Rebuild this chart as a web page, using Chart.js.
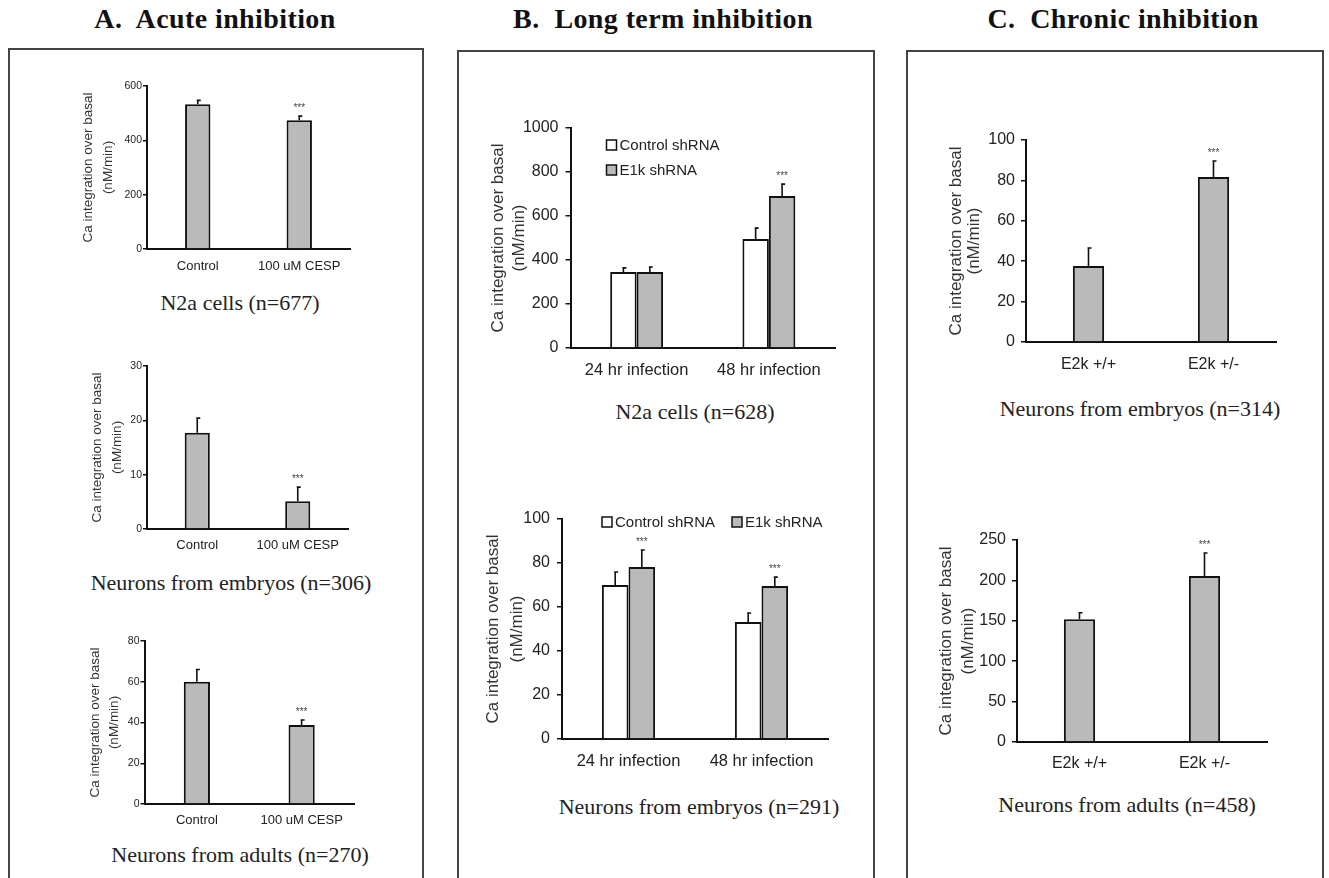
<!DOCTYPE html>
<html>
<head>
<meta charset="utf-8">
<script src="https://cdn.jsdelivr.net/npm/chart.js@4.4.1/dist/chart.umd.min.js"></script>
<style>
    body { margin: 0; background: #fff; width: 1329px; height: 878px; overflow: hidden; position: relative; }
    .panel { position: absolute; border: 2px solid #444; border-bottom: none; box-sizing: border-box; }
    .head { position: absolute; top: 3px; font: bold 28px "Liberation Serif", serif; white-space: pre; transform: translateX(-50%); color: #111; letter-spacing: 0.4px; }
    .sub { position: absolute; font: 22px "Liberation Serif", serif; white-space: pre; transform: translate(-50%, -50%); color: #222; }
    canvas { position: absolute; }
</style>
</head>
<body>
<div class="panel" style="left:8px;top:48px;width:416px;height:840px"></div>
<div class="panel" style="left:457px;top:50px;width:418px;height:840px"></div>
<div class="panel" style="left:906px;top:50px;width:418px;height:840px"></div>
<div class="head" style="left:215px">A.  Acute inhibition</div>
<div class="head" style="left:663px">B.  Long term inhibition</div>
<div class="head" style="left:1123px">C.  Chronic inhibition</div>
<div class="sub" style="left:240px;top:303px">N2a cells (n=677)</div>
<div class="sub" style="left:231px;top:583px">Neurons from embryos (n=306)</div>
<div class="sub" style="left:240px;top:855px">Neurons from adults (n=270)</div>
<div class="sub" style="left:695px;top:412px">N2a cells (n=628)</div>
<div class="sub" style="left:699px;top:807px">Neurons from embryos (n=291)</div>
<div class="sub" style="left:1140px;top:409px">Neurons from embryos (n=314)</div>
<div class="sub" style="left:1127px;top:805px">Neurons from adults (n=458)</div>

<script>
// ==================== DATA ====================
const yTitle = ['Ca integration over basal', '(nM/min)'];

// A. acute inhibition
const acuteLabels = ['Control', '100 uM CESP'];
const n2aAcuteMean = [533, 474];
const n2aAcuteErr = [14, 15];
const n2aAcuteSig = [false, true];
const embAcuteMean = [17.7, 5.1];
const embAcuteErr = [2.7, 2.6];
const embAcuteSig = [false, true];
const adultAcuteMean = [60, 38.8];
const adultAcuteErr = [6, 2.4];
const adultAcuteSig = [false, true];

// B. long term inhibition
const infectionLabels = ['24 hr infection', '48 hr infection'];
const seriesNames = ['Control shRNA', 'E1k shRNA'];
const n2aCtrlMean = [345, 495];
const n2aCtrlErr = [19, 50];
const n2aE1kMean = [345, 691];
const n2aE1kErr = [23, 54];
const n2aE1kSig = [false, true];
const embCtrlMean = [70, 53.2];
const embCtrlErr = [5.9, 4.1];
const embE1kMean = [78.2, 69.5];
const embE1kErr = [7.7, 4.1];
const embE1kSig = [true, true];

// C. chronic inhibition
const genotypeLabels = ['E2k +/+', 'E2k +/-'];
const embChronicMean = [37.6, 81.7];
const embChronicErr = [8.9, 7.9];
const embChronicSig = [false, true];
const adultChronicMean = [152, 205.5];
const adultChronicErr = [8, 28.5];
const adultChronicSig = [false, true];

// ==================== CHARTS ====================
Chart.defaults.font.family = '"Liberation Sans", Arial, sans-serif';
Chart.defaults.color = '#222';

const GREY = '#bababa';

// error bars with a small cap, plus *** over significant bars
const errorBars = {
    id: 'errorBars',
    afterDatasetsDraw(chart) {
        const ctx = chart.ctx;
        const yScale = chart.scales.y;
        chart.data.datasets.forEach((ds, di) => {
            const meta = chart.getDatasetMeta(di);
            meta.data.forEach((bar, i) => {
                if (!ds.errors) return;
                const yTop = yScale.getPixelForValue(ds.data[i] + ds.errors[i]);
                ctx.save();
                ctx.strokeStyle = '#111';
                ctx.lineWidth = 1.6;
                ctx.beginPath();
                ctx.moveTo(bar.x, bar.y);
                ctx.lineTo(bar.x, yTop);
                ctx.moveTo(bar.x - 1, yTop);
                ctx.lineTo(bar.x + 3, yTop);
                ctx.stroke();
                if (ds.sig && ds.sig[i]) {
                    ctx.fillStyle = '#444';
                    ctx.font = '10px "Liberation Sans"';
                    ctx.textAlign = 'center';
                    ctx.textBaseline = 'bottom';
                    ctx.fillText('***', bar.x, yTop - 3);
                }
                ctx.restore();
            });
        });
    }
};

// little square legend drawn inside the plot
const boxLegend = {
    id: 'boxLegend',
    afterDraw(chart, args, opts) {
        if (!opts.items) return;
        const ctx = chart.ctx;
        const ca = chart.chartArea;
        chart.data.datasets.forEach((ds, i) => {
            const x = ca.left + opts.items[i][0];
            const y = ca.top + opts.items[i][1];
            ctx.save();
            ctx.fillStyle = ds.backgroundColor;
            ctx.fillRect(x, y - 5, 10, 10);
            ctx.strokeStyle = '#111';
            ctx.lineWidth = 1.5;
            ctx.strokeRect(x, y - 5, 10, 10);
            ctx.fillStyle = '#222';
            ctx.font = opts.size + 'px "Liberation Sans"';
            ctx.textBaseline = 'middle';
            ctx.fillText(ds.label, x + 13, y + 1);
            ctx.restore();
        });
    }
};

function makeChart(g, labels, datasets, yMax, yStep, legend) {
    const yW = g.left - (g.titleX - g.lh / 2);
    const padT = 20, padR = 12, xH = 46;
    const cv = document.createElement('canvas');
    cv.width = g.right - g.left + yW + padR;
    cv.height = g.bottom - g.top + padT + xH;
    cv.style.left = (g.left - yW) + 'px';
    cv.style.top = (g.top - padT) + 'px';
    document.body.appendChild(cv);

    const plugins = [errorBars];
    if (legend) plugins.push(boxLegend);

    return new Chart(cv.getContext('2d'), {
        type: 'bar',
        data: { labels: labels, datasets: datasets },
        plugins: plugins,
        options: {
            responsive: false,
            animation: false,
            layout: { padding: { top: padT, right: padR, left: 0, bottom: 0 } },
            datasets: { bar: { categoryPercentage: g.catPct, barPercentage: g.barPct } },
            plugins: {
                legend: { display: false },
                tooltip: { enabled: false },
                boxLegend: legend || {}
            },
            scales: {
                x: {
                    ticks: { font: { size: g.xf }, padding: g.xPad, color: '#222' },
                    grid: { display: false, drawTicks: false },
                    border: { display: true, color: '#111', width: 2 },
                    afterFit(s) { s.height = xH; }
                },
                y: {
                    min: 0,
                    max: yMax,
                    ticks: {
                        stepSize: yStep,
                        font: { size: g.tick },
                        padding: g.tickPad,
                        color: '#222',
                        callback: (v) => String(v)
                    },
                    grid: { drawOnChartArea: false, drawTicks: true, tickLength: g.tickLen, color: '#111', lineWidth: 1.5 },
                    border: { display: true, color: '#111', width: 2 },
                    title: {
                        display: true,
                        text: yTitle,
                        color: '#333',
                        padding: 0,
                        font: { size: g.tf, lineHeight: g.lh / g.tf }
                    },
                    afterFit(s) { s.width = yW; }
                }
            }
        }
    });
}

function greyBars(mean, err, sig) {
    return [{ data: mean, errors: err, sig: sig, backgroundColor: GREY, borderColor: '#111', borderWidth: 2 }];
}

const smallA = { tf: 13.5, tick: 10.5, tickLen: 4, tickPad: 1, xf: 13, catPct: 1, barPct: 0.25 };
const bigB = { tf: 17, tick: 16, tickLen: 5, tickPad: 7, xf: 16.5, xPad: 13, catPct: 0.4, barPct: 1 };
const bigC = { tf: 17, tick: 16, tickLen: 5, tickPad: 6, xf: 16, catPct: 1, barPct: 0.25 };

// A
makeChart(Object.assign({}, smallA, { left: 147, top: 86, right: 350, bottom: 249, titleX: 88, lh: 20, xPad: 10 }),
    acuteLabels, greyBars(n2aAcuteMean, n2aAcuteErr, n2aAcuteSig), 600, 200);
makeChart(Object.assign({}, smallA, { left: 147, top: 366, right: 348, bottom: 529, titleX: 97, lh: 20, xPad: 9 }),
    acuteLabels, greyBars(embAcuteMean, embAcuteErr, embAcuteSig), 30, 10);
makeChart(Object.assign({}, smallA, { left: 144, top: 641, right: 354, bottom: 804, titleX: 95, lh: 19, xPad: 9 }),
    acuteLabels, greyBars(adultAcuteMean, adultAcuteErr, adultAcuteSig), 80, 20);

// B
makeChart(Object.assign({}, bigB, { left: 570, top: 128, right: 835, bottom: 348, titleX: 498, lh: 21 }),
    infectionLabels, [
        { label: seriesNames[0], data: n2aCtrlMean, errors: n2aCtrlErr, backgroundColor: '#ffffff', borderColor: '#111', borderWidth: 2 },
        { label: seriesNames[1], data: n2aE1kMean, errors: n2aE1kErr, sig: n2aE1kSig, backgroundColor: GREY, borderColor: '#111', borderWidth: 2 }
    ], 1000, 200, { items: [[36, 17], [36, 42]], size: 15 });
makeChart(Object.assign({}, bigB, { left: 562, top: 519, right: 828, bottom: 739, titleX: 493, lh: 24 }),
    infectionLabels, [
        { label: seriesNames[0], data: embCtrlMean, errors: embCtrlErr, backgroundColor: '#ffffff', borderColor: '#111', borderWidth: 2 },
        { label: seriesNames[1], data: embE1kMean, errors: embE1kErr, sig: embE1kSig, backgroundColor: GREY, borderColor: '#111', borderWidth: 2 }
    ], 100, 20, { items: [[40, 3], [170, 3]], size: 15 });

// C
makeChart(Object.assign({}, bigC, { left: 1026, top: 140, right: 1276, bottom: 342, titleX: 956, lh: 18, xPad: 13 }),
    genotypeLabels, greyBars(embChronicMean, embChronicErr, embChronicSig), 100, 20);
makeChart(Object.assign({}, bigC, { left: 1017, top: 540, right: 1267, bottom: 742, titleX: 946, lh: 22, xPad: 12 }),
    genotypeLabels, greyBars(adultChronicMean, adultChronicErr, adultChronicSig), 250, 50);
</script>
</body>
</html>
